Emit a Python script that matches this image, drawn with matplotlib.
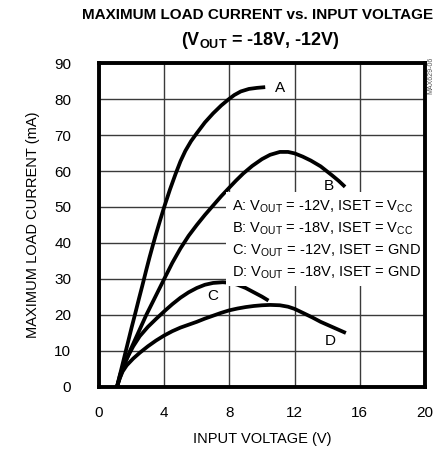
import matplotlib
matplotlib.use("Agg")
import matplotlib.pyplot as plt

# curve data
a_vin = [1.1, 1.4, 1.7, 2.0, 2.2, 2.45, 2.65, 2.9, 3.1, 3.3, 3.5, 3.75, 4.0, 4.35, 4.7, 5.0,
         5.3, 5.65, 6.0, 6.5, 7.0, 7.5, 7.95, 8.3, 8.7, 9.2, 9.7, 10.2]
a_iout = [0, 5.5, 11, 16.5, 20, 24.5, 28, 32.5, 36, 39.3, 42.5, 46.3, 50, 54.8, 59.2, 62.7,
          65.6, 68.3, 70.5, 73.5, 76, 78.2, 79.9, 81.1, 82.1, 82.8, 83.1, 83.3]

b_vin = [1.1, 1.5, 1.9, 2.4, 2.9, 3.45, 4.0, 4.5, 5.0, 5.5, 6.0, 6.5, 7.0, 7.5, 8.0, 8.4,
         8.85, 9.4, 10.0, 10.5, 11.1, 11.6, 12.0, 12.5, 13.0, 13.6, 14.3, 14.7, 15.1]
b_iout = [0, 5.5, 10, 15, 20, 25, 30, 34.5, 38.5, 42, 45, 47.8, 50.4, 53, 55.4, 57.3,
          59.3, 61.4, 63.3, 64.5, 65.3, 65.3, 64.9, 64, 62.9, 61.3, 58.8, 57.3, 55.6]

c_vin = [1.1, 1.3, 1.6, 2.1, 2.5, 3.0, 3.5, 4.0, 4.5, 5.0, 5.5, 6.0, 6.5, 7.0, 7.6, 8.1,
         8.5, 9.0, 9.5, 10.0, 10.4]
c_iout = [0, 3.5, 7, 11.3, 14.1, 16.7, 18.9, 21.0, 23.0, 24.8, 26.3, 27.5, 28.4, 28.9, 29.1, 28.9,
          28.4, 27.5, 26.3, 25.1, 24]

d_vin = [1.1, 1.25, 1.45, 1.7, 2.1, 2.5, 3.0, 3.5, 4.0, 4.5, 5.0, 5.5, 6.0, 6.5, 7.0, 7.5, 8.0,
         8.5, 9.0, 9.5, 10.0, 10.5, 11.1, 11.6, 12.0, 12.6, 13.1, 13.6, 14.1, 14.6, 15.15]
d_iout = [0, 2.2, 4.3, 6.0, 7.9, 9.5, 11.3, 12.9, 14.3, 15.5, 16.5, 17.3, 18.1, 19, 19.8, 20.6, 21.3,
          21.8, 22.2, 22.5, 22.7, 22.8, 22.7, 22.3, 21.7, 20.4, 19.3, 18.1, 17.1, 16.1, 15]

x_ticks = [0, 4, 8, 12, 16, 20]
y_ticks = [0, 10, 20, 30, 40, 50, 60, 70, 80, 90]

legend_lines = [
    r"A: V$_{\mathregular{OUT}}$ = -12V, ISET = V$_{\mathregular{CC}}$",
    r"B: V$_{\mathregular{OUT}}$ = -18V, ISET = V$_{\mathregular{CC}}$",
    r"C: V$_{\mathregular{OUT}}$ = -12V, ISET = GND",
    r"D: V$_{\mathregular{OUT}}$ = -18V, ISET = GND",
]

plt.rcParams['font.family'] = ['Liberation Sans', 'DejaVu Sans']

fig = plt.figure(figsize=(4.41, 4.55), dpi=100)
ax = fig.add_axes([0.2245, 0.1495, 0.739, 0.712])

for xs, ys in [(a_vin, a_iout), (b_vin, b_iout), (c_vin, c_iout), (d_vin, d_iout)]:
    ax.plot(xs, ys, color='black', lw=2.7, solid_capstyle='butt',
            solid_joinstyle='round', zorder=4)

ax.set_xlim(0, 20)
ax.set_ylim(0, 90)
ax.set_xticks(x_ticks)
ax.set_yticks(y_ticks)
ax.tick_params(length=0, labelsize=11, pad=14)
ax.tick_params(axis='y', pad=20)
ax.grid(True, color='#3a3a3a', lw=1.0)
for s in ax.spines.values():
    s.set_linewidth(2.8)
    s.set_zorder(6)

ax.set_xlabel("INPUT VOLTAGE (V)", fontsize=10.5, labelpad=8)
ax.set_ylabel("MAXIMUM LOAD CURRENT (mA)", fontsize=10.5, labelpad=10)

ax.text(11.1, 83, "A", fontsize=11, ha='center', va='center', zorder=5)
ax.text(14.1, 55.7, "B", fontsize=11, ha='center', va='center', zorder=5)
ax.text(7.0, 25.3, "C", fontsize=11, ha='center', va='center', zorder=5)
ax.text(14.2, 12.8, "D", fontsize=11, ha='center', va='center', zorder=5)

ax.text(8.15, 41, "\n".join(legend_lines), fontsize=10.5, ha='left', va='center',
        linespacing=1.45, zorder=5,
        bbox=dict(facecolor='white', edgecolor='none', pad=4))

fig.text(0.585, 0.968, "MAXIMUM LOAD CURRENT vs. INPUT VOLTAGE", fontsize=11,
         fontweight='bold', ha='center', va='center')
fig.text(0.59, 0.912, r"(V$_{\mathregular{OUT}}$ = -18V, -12V)", fontsize=13,
         fontweight='bold', ha='center', va='center')
fig.text(0.978, 0.835, "MAX629-06", fontsize=5, color='#555555', rotation=90,
         ha='center', va='center')

fig.savefig("out.png", dpi=100)
